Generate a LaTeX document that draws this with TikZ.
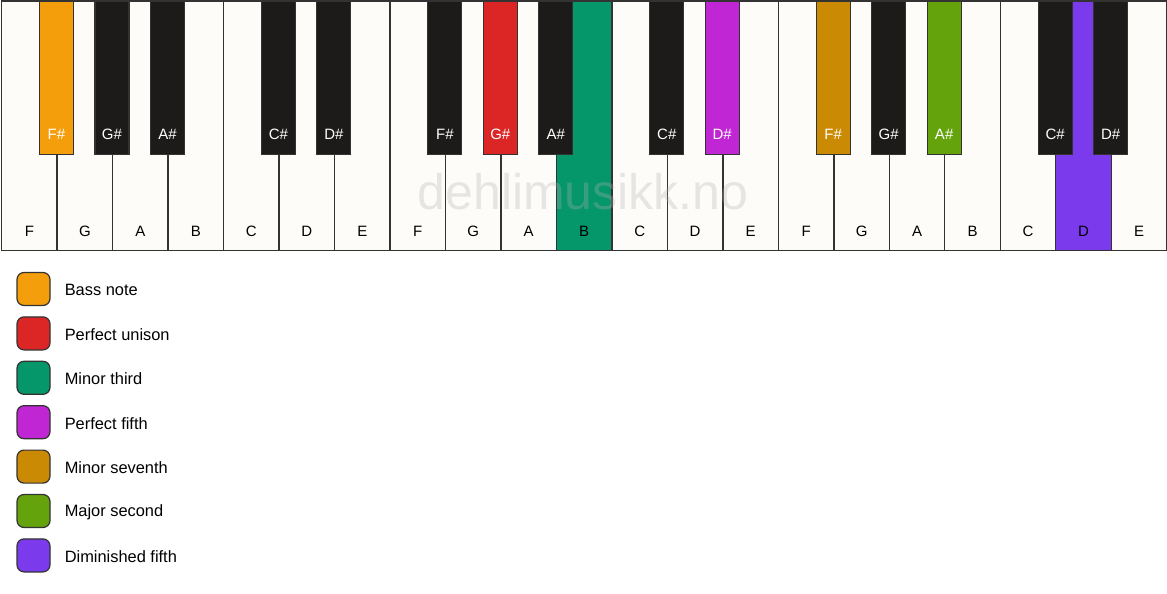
\documentclass[tikz,border=0pt]{standalone}
\usepackage{fontspec}
\setmainfont{Liberation Sans}
\usetikzlibrary{positioning}
\definecolor{keywhite}{HTML}{FDFCF9}
\definecolor{keyblack}{HTML}{1C1B19}
\definecolor{keyline}{HTML}{333333}
\definecolor{bass}{HTML}{F59E0B}
\definecolor{unison}{HTML}{DC2626}
\definecolor{minthird}{HTML}{059669}
\definecolor{pfifth}{HTML}{C026D3}
\definecolor{minseventh}{HTML}{CA8A04}
\definecolor{majsecond}{HTML}{65A30D}
\definecolor{dimfifth}{HTML}{7C3AED}
\tikzset{
  whitekey/.style={draw=keyline, line width=1.3pt, minimum width=55.48pt, minimum height=249pt, inner sep=0pt, anchor=north west},
  blackkey/.style={draw=keyline, line width=1.1pt, minimum width=34pt, minimum height=153pt, inner sep=0pt, anchor=north},
  whitelabel/.style={font=\fontsize{15}{18}\selectfont, text=black, inner sep=0pt},
  blacklabel/.style={font=\fontsize{15}{18}\selectfont, text=white, inner sep=0pt},
  legendbox/.style={draw=keyline, line width=1.2pt, rounded corners=7pt, minimum size=33pt, inner sep=0pt},
  legendtext/.style={font=\fontsize{16.4}{19}\selectfont, inner sep=0pt, anchor=west}
}
\begin{document}
\begin{tikzpicture}[x=1pt,y=-1pt]
\useasboundingbox[fill=white] (0,0) rectangle (1167,594);

\foreach \i/\n/\c in {0/F/keywhite,1/G/keywhite,2/A/keywhite,3/B/keywhite,4/C/keywhite,5/D/keywhite,6/E/keywhite,
  7/F/keywhite,8/G/keywhite,9/A/keywhite,10/B/minthird,11/C/keywhite,12/D/keywhite,13/E/keywhite,
  14/F/keywhite,15/G/keywhite,16/A/keywhite,17/B/keywhite,18/C/keywhite,19/D/dimfifth,20/E/keywhite}{
  \node[whitekey, fill=\c] (w\i) at ({1+55.48*\i},0.5) {};
  \node[whitelabel] (w\i-l) at ([yshift=19pt]w\i.south) {\n};
}

\foreach \i/\n/\c in {1/F\#/bass,2/G\#/keyblack,3/A\#/keyblack,5/C\#/keyblack,6/D\#/keyblack,
  8/F\#/keyblack,9/G\#/unison,10/A\#/keyblack,12/C\#/keyblack,13/D\#/pfifth,
  15/F\#/minseventh,16/G\#/keyblack,17/A\#/majsecond,19/C\#/keyblack,20/D\#/keyblack}{
  \node[blackkey, fill=\c] (b\i) at ({1+55.48*\i},0.5) {};
  \node[blacklabel] (b\i-l) at ([yshift=20pt]b\i.south) {\n};
}

\node[font=\fontsize{50}{50}\selectfont, text=gray!60, opacity=0.3, inner sep=0pt] (mark) at (583,192) {dehlimusikk.no};

\foreach \c/\t [count=\k from 0] in {bass/Bass note,unison/Perfect unison,minthird/Minor third,pfifth/Perfect fifth,
  minseventh/Minor seventh,majsecond/Major second,dimfifth/Diminished fifth}{
  \node[legendbox, fill=\c] (leg\k) at (33.5,{289+44.4*\k}) {};
  \node[legendtext, right=14pt of leg\k, yshift=-1pt] (leg\k-t) {\t};
}
\end{tikzpicture}
\end{document}
